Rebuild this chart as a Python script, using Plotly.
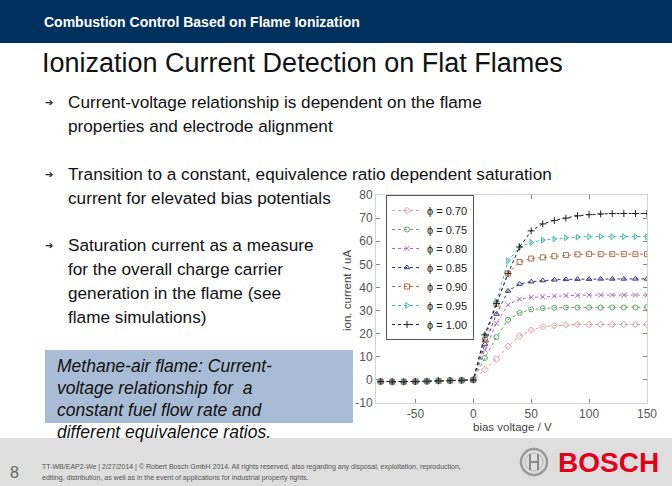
import subprocess
import plotly.graph_objects as go

W, H = 672, 486

# ---------------- data ----------------
bias_voltage = [-80, -70, -60, -50, -40, -30, -20, -10, 0,
                10, 20, 30, 40, 50, 60, 70, 80, 90, 100, 110, 120, 130, 140, 150]
neg_part = [-0.7, -0.8, -0.8, -0.7, -0.6, -0.4, -0.3, -0.2, 0.0]

phi_labels = ["ϕ = 0.70", "ϕ = 0.75", "ϕ = 0.80", "ϕ = 0.85", "ϕ = 0.90", "ϕ = 0.95", "ϕ = 1.00"]
current_070 = neg_part + [4.5, 9.0, 14.5, 19.0, 21.5, 23.0, 23.5, 23.8, 24.0, 24.0, 24.0, 24.0, 24.0, 24.0, 24.0]
current_075 = neg_part + [9.5, 18.5, 26.0, 29.0, 30.5, 31.0, 31.2, 31.3, 31.3, 31.3, 31.3, 31.3, 31.3, 31.3, 31.5]
current_080 = neg_part + [13.0, 24.5, 32.5, 35.0, 35.7, 36.0, 36.3, 36.5, 36.6, 36.7, 36.7, 36.7, 36.7, 36.7, 36.7]
current_085 = neg_part + [15.5, 28.5, 38.5, 41.5, 42.5, 43.0, 43.3, 43.5, 43.6, 43.6, 43.7, 43.7, 43.7, 43.7, 43.7]
current_090 = neg_part + [17.3, 33.0, 46.0, 51.0, 52.5, 53.0, 53.5, 54.0, 54.3, 54.4, 54.4, 54.4, 54.4, 54.4, 54.4]
current_095 = neg_part + [19.0, 34.0, 51.5, 57.5, 59.5, 60.5, 61.0, 61.5, 61.8, 62.0, 62.0, 62.0, 62.0, 62.0, 62.0]
current_100 = neg_part + [19.5, 33.0, 46.0, 57.5, 64.5, 67.5, 69.0, 70.0, 71.0, 71.5, 71.8, 72.0, 72.0, 72.0, 72.0]

x_ticks = [-50, 0, 50, 100, 150]
x_tick_text = ["-50", "0", "50", "100", "150"]
y_ticks = [-10, 0, 10, 20, 30, 40, 50, 60, 70, 80]
y_tick_text = ["-10", "0", "10", "20", "30", "40", "50", "60", "70", "80"]

series = [current_070, current_075, current_080, current_085, current_090, current_095, current_100]
colors = ["#e39a9a", "#5fa85f", "#b06ab0", "#34347f", "#b0704a", "#3fb3b3", "#222222"]
symbols = ["diamond-open", "circle-open", "x-thin-open", "triangle-up-open",
           "square-open", "triangle-right-open", "cross-thin-open"]

# ---------------- helpers (layout positions in pixels -> paper) ----------------
def px(x):
    return x / W

def py(y):
    return 1 - y / H

try:
    fonts = subprocess.run(["fc-list"], capture_output=True, text=True).stdout
except Exception:
    fonts = ""
has_narrow = "Liberation Sans Narrow" in fonts

fig = go.Figure()
for vals, name, col, sym in zip(series, phi_labels, colors, symbols):
    fig.add_trace(go.Scatter(
        x=bias_voltage, y=vals, name=name, mode="lines+markers",
        line=dict(color=col, width=1, dash="dot"),
        marker=dict(symbol=sym, size=5, color=col, line=dict(color=col, width=1)),
    ))

shapes = []
shapes.append(dict(type="rect", xref="paper", yref="paper", x0=0, x1=1, y0=py(43), y1=1,
                   fillcolor="#00305e", line=dict(width=0), layer="below"))
shapes.append(dict(type="rect", xref="paper", yref="paper", x0=0, x1=1, y0=0, y1=py(438),
                   fillcolor="#dedede", line=dict(width=0), layer="below"))
shapes.append(dict(type="rect", xref="paper", yref="paper", x0=px(45), x1=px(353), y0=py(423), y1=py(350),
                   fillcolor="#a9bcd5", line=dict(width=0), layer="below"))
cx, cy, r = 534, 462, 13
shapes.append(dict(type="circle", xref="paper", yref="paper", x0=px(cx - r), x1=px(cx + r),
                   y0=py(cy + r), y1=py(cy - r), line=dict(color="#9a9a9a", width=2.5)))
shapes.append(dict(type="circle", xref="paper", yref="paper", x0=px(cx - 9), x1=px(cx + 9),
                   y0=py(cy + 9), y1=py(cy - 9), line=dict(color="#b5b5b5", width=1)))
for dx in (-4, 4):
    shapes.append(dict(type="line", xref="paper", yref="paper", x0=px(cx + dx), x1=px(cx + dx),
                       y0=py(cy + 8), y1=py(cy - 8), line=dict(color="#8a8a8a", width=2)))
shapes.append(dict(type="line", xref="paper", yref="paper", x0=px(cx - 4), x1=px(cx + 4),
                   y0=py(cy), y1=py(cy), line=dict(color="#8a8a8a", width=2)))

ann = []
def txt(x, y, s, size, color="#000", family="Liberation Sans, Arial, sans-serif", xanchor="left", angle=0):
    ann.append(dict(x=px(x), y=py(y), xref="paper", yref="paper", text=s, showarrow=False,
                    xanchor=xanchor, yanchor="middle", textangle=angle,
                    font=dict(size=size, color=color, family=family)))

if has_narrow:
    txt(42, 22, "<b>Combustion Control Based on Flame Ionization</b>", 16.5, "#ffffff",
        "Liberation Sans Narrow, Arial Narrow, sans-serif")
else:
    txt(42, 22, "<b>Combustion Control Based on Flame Ionization</b>", 14, "#ffffff")

txt(40, 63, "Ionization Current Detection on Flat Flames", 27, "#111")

bullets = [
    (102, ["Current-voltage relationship is dependent on the flame", "properties and electrode alignment"]),
    (174, ["Transition to a constant, equivalence ratio dependent saturation", "current for elevated bias potentials"]),
    (245, ["Saturation current as a measure", "for the overall charge carrier",
           "generation in the flame (see", "flame simulations)"]),
]
for y0, lines in bullets:
    txt(49, y0, "➔", 10, "#222", "DejaVu Sans, sans-serif", xanchor="center")
    for i, line in enumerate(lines):
        txt(66, y0 + i * 24, line, 17.2, "#111")

caption = ["Methane-air flame: Current-", "voltage relationship for  a",
           "constant fuel flow rate and", "different equivalence ratios."]
for i, line in enumerate(caption):
    txt(55, 366 + i * 22, "<i>" + line + "</i>", 17.5, "#111")

txt(512, 427, "bias voltage / V", 11.5, "#444", xanchor="center")
txt(347, 290, "ion. current / uA", 11.5, "#444", xanchor="center", angle=-90)

txt(8, 472, "8", 16, "#666", xanchor="left")
txt(40, 467, "TT-WB/EAP2-We | 2/27/2014 | © Robert Bosch GmbH 2014. All rights reserved, also regarding any disposal, exploitation, reproduction,", 7, "#555")
txt(40, 478, "editing, distribution, as well as in the event of applications for industrial property rights.", 7, "#555")
txt(556, 462, "<b>BOSCH</b>", 28, "#e2001a")

axis_common = dict(showgrid=False, zeroline=False, ticks="inside", ticklen=4, tickcolor="#888",
                   showline=True, linecolor="#d4d4d4", linewidth=1, mirror="ticks", automargin=False,
                   tickfont=dict(size=12, color="#555", family="Liberation Sans, Arial, sans-serif"))

fig.update_layout(
    width=W, height=H, margin=dict(l=0, r=0, t=0, b=0, pad=0, autoexpand=False),
    paper_bgcolor="#ffffff", plot_bgcolor="#ffffff",
    xaxis=dict(domain=[px(376), px(647)], range=[-84, 150], tickvals=x_ticks, ticktext=x_tick_text, **axis_common),
    yaxis=dict(domain=[py(403), py(195)], range=[-10, 80], tickvals=y_ticks, ticktext=y_tick_text, **axis_common),
    legend=dict(x=px(386), y=py(195), xanchor="left", yanchor="top", bgcolor="#ffffff",
                bordercolor="#555", borderwidth=1, tracegroupgap=0,
                font=dict(size=11, color="#222", family="Liberation Sans, Arial, sans-serif")),
    shapes=shapes, annotations=ann, showlegend=True,
)

post = ("document.documentElement.style.overflow='hidden';"
        "document.body.style.margin='0';document.body.style.padding='0';"
        "document.body.style.overflow='hidden';"
        "var gd=document.getElementById('{plot_id}');"
        "gd.style.position='fixed';gd.style.left='0px';gd.style.top='0px';")

fig.write_html("out.html", config={"displayModeBar": False}, post_script=post)
